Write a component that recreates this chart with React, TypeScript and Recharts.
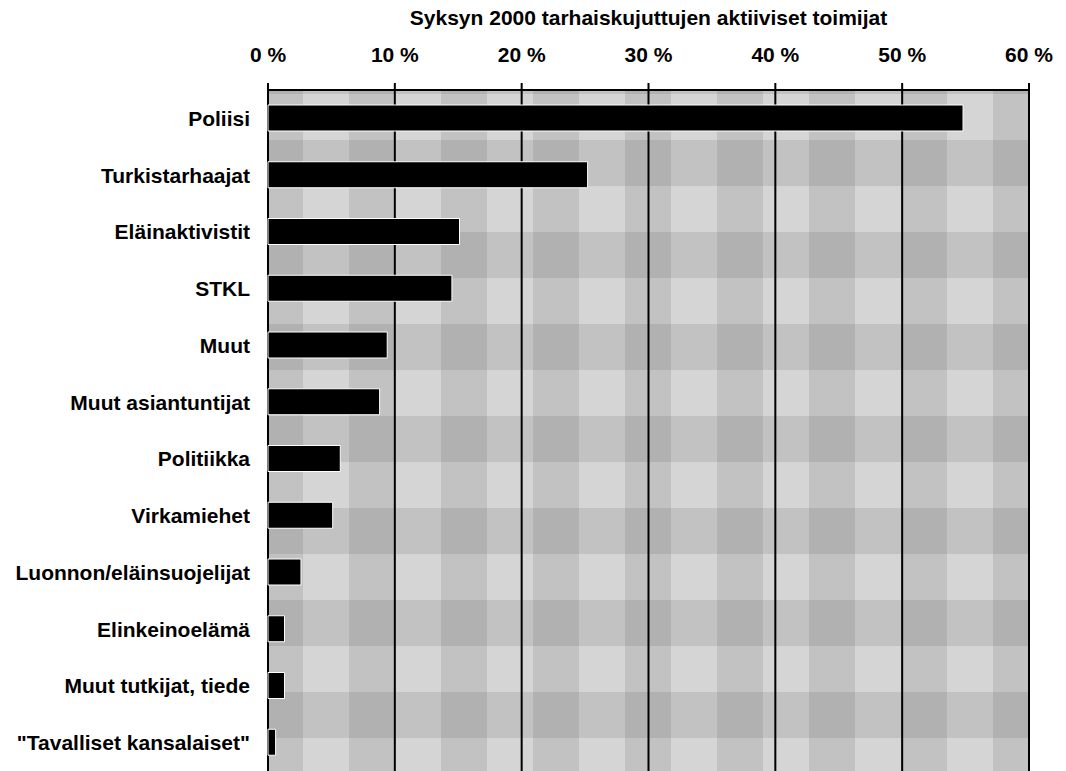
import React from 'react';
import { BarChart, Bar, XAxis, YAxis, CartesianGrid } from 'recharts';

// Syksyn 2000 tarhaiskujuttujen aktiiviset toimijat (% of articles)
const toimijat = [
  'Poliisi',
  'Turkistarhaajat',
  'Eläinaktivistit',
  'STKL',
  'Muut',
  'Muut asiantuntijat',
  'Politiikka',
  'Virkamiehet',
  'Luonnon/eläinsuojelijat',
  'Elinkeinoelämä',
  'Muut tutkijat, tiede',
  '"Tavalliset kansalaiset"',
];
const osuudet = [54.8, 25.2, 15.1, 14.5, 9.4, 8.8, 5.7, 5.1, 2.6, 1.3, 1.3, 0.6];
const xTicks = [0, 10, 20, 30, 40, 50, 60];
const rowEdges = [1, 2, 3, 4, 5, 6, 7, 8, 9, 10, 11];

const data = toimijat.map((name, i) => ({ name, value: osuudet[i] }));

const FONT = '"Liberation Sans", Arial, Helvetica, sans-serif';
const tickFont = { fill: '#000', fontSize: 21, fontWeight: 'bold', fontFamily: FONT };

export default function App() {
  return (
    <div style={{ position: 'absolute', left: 0, top: 0, width: 1066, height: 771, background: '#fff', fontFamily: FONT }}>
      <div
        style={{
          position: 'absolute',
          left: 268,
          width: 761,
          top: 6,
          textAlign: 'center',
          fontSize: 21,
          fontWeight: 'bold',
          color: '#000',
        }}
      >
        Syksyn 2000 tarhaiskujuttujen aktiiviset toimijat
      </div>
      <BarChart
        width={1066}
        height={771}
        data={data}
        layout="vertical"
        margin={{ top: 40, right: 37, bottom: 0, left: 0 }}
      >
        <defs>
          {/* gingham-like halftone background of the scanned original */}
          <pattern id="plaid" patternUnits="userSpaceOnUse" x={73} y={48} width={92} height={92}>
            <rect x={0} y={0} width={92} height={92} fill="#d5d5d5" />
            <rect x={0} y={0} width={46} height={92} fill="rgba(0,0,0,0.09)" />
            <rect x={0} y={0} width={92} height={46} fill="rgba(0,0,0,0.09)" />
          </pattern>
        </defs>
        <CartesianGrid
          yAxisId="cat"
          horizontal={false}
          stroke="#000"
          strokeWidth={2}
          fill="url(#plaid)"
          fillOpacity={1}
        />
        <XAxis
          type="number"
          orientation="top"
          domain={[0, 60]}
          ticks={xTicks}
          tickFormatter={(v) => `${v} %`}
          height={50}
          tickSize={7}
          tickMargin={21}
          axisLine={{ stroke: '#000', strokeWidth: 2 }}
          tickLine={{ stroke: '#000', strokeWidth: 2 }}
          tick={tickFont}
          interval={0}
        />
        <YAxis
          yAxisId="edges"
          type="number"
          domain={[0, 12]}
          ticks={rowEdges}
          width={0}
          tickSize={6}
          tick={false}
          axisLine={{ stroke: '#000', strokeWidth: 2 }}
          tickLine={{ stroke: '#000', strokeWidth: 2 }}
        />
        <YAxis
          yAxisId="cat"
          type="category"
          dataKey="name"
          width={268}
          tickLine={false}
          axisLine={false}
          tickSize={6}
          tickMargin={12}
          interval={0}
          tick={tickFont}
        />
        <Bar
          yAxisId="cat"
          dataKey="value"
          fill="#000"
          stroke="#fff"
          strokeWidth={1}
          barSize={26}
          isAnimationActive={false}
        />
      </BarChart>
    </div>
  );
}
